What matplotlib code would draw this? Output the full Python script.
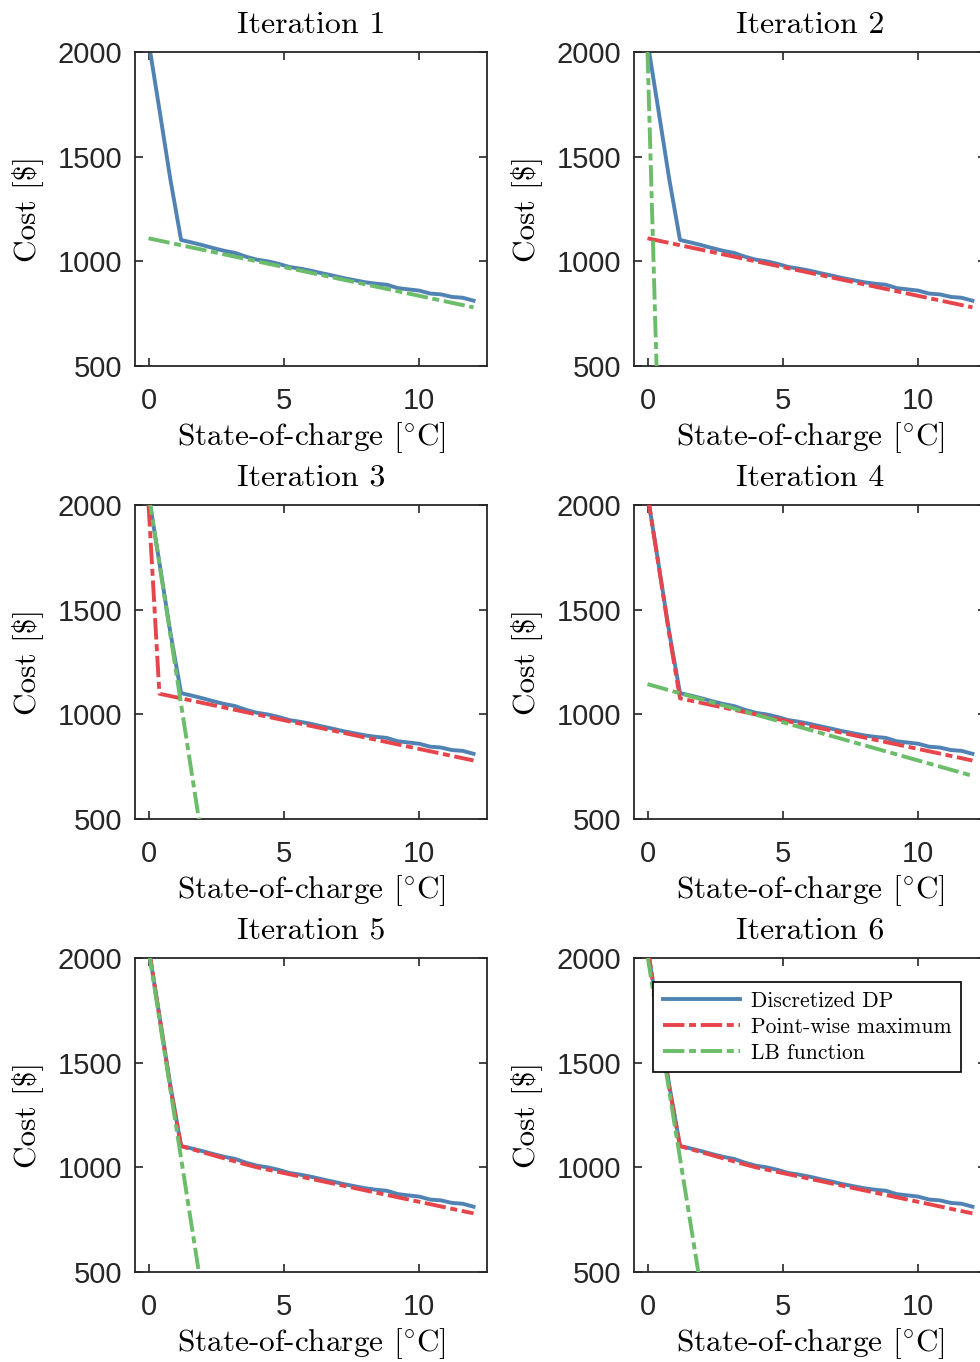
import matplotlib
matplotlib.use("Agg")
import matplotlib.pyplot as plt
import numpy as np

plt.rcParams['mathtext.fontset'] = 'cm'
plt.rcParams['font.family'] = ['Liberation Sans', 'DejaVu Sans']

# state-of-charge grid and discretized DP cost
soc = [0.0, 0.4, 0.8, 1.2, 1.6, 2.0, 2.4, 2.8, 3.2, 3.6, 4.0, 4.4, 4.8, 5.2, 5.6, 6.0,
       6.4, 6.8, 7.2, 7.6, 8.0, 8.4, 8.8, 9.2, 9.6, 10.0, 10.4, 10.8, 11.2, 11.6, 12.0]
dp_cost = [2050, 1725, 1395, 1102, 1090, 1077, 1063, 1050, 1040, 1022, 1008, 1000, 988, 973, 965, 955,
           943, 932, 920, 910, 900, 893, 888, 872, 866, 860, 846, 842, 830, 826, 812]

# LB function of each iteration (linear: intercept + slope * soc)
lb_intercept = [1110, 2000, 2055, 1145, 2040, 2010]
lb_slope = [-27.5, -4500, -838, -36.5, -830, -805]

titles = ['Iteration 1', 'Iteration 2', 'Iteration 3', 'Iteration 4', 'Iteration 5', 'Iteration 6']
legend_labels = ['Discretized DP', 'Point-wise maximum', 'LB function']

c_blue = '#5083b3'
c_red = '#e5454b'
c_green = '#6bbd69'
dashdot = (0, (5.5, 1.2, 1.8, 1.2))
lw = 2.8
serif = 'cmr10'

fig = plt.figure(figsize=(9.8, 13.62), dpi=100)

lefts = [0.1378, 0.6469]
bottoms = [0.7313, 0.3986, 0.0661]
w, h = 0.3592, 0.2305

x = np.array(soc)
for k in range(6):
    ax = fig.add_axes([lefts[k % 2], bottoms[k // 2], w, h])

    ax.plot(x, dp_cost, color=c_blue, lw=lw, label=legend_labels[0], zorder=2)
    if k > 0:
        # point-wise maximum of previous LB functions, on the grid
        prev = [lb_intercept[j] + lb_slope[j] * x for j in range(k)]
        ax.plot(x, np.max(prev, axis=0), color=c_red, lw=lw, linestyle=dashdot,
                label=legend_labels[1], zorder=3)
    ends = np.array([soc[0], soc[-1]])
    ax.plot(ends, lb_intercept[k] + lb_slope[k] * ends, color=c_green, lw=lw,
            linestyle=dashdot, label=legend_labels[2], zorder=4)

    ax.set_xlim(-0.5, 12.5)
    ax.set_ylim(500, 2000)
    ax.set_xticks([0, 5, 10])
    ax.set_yticks([500, 1000, 1500, 2000])
    ax.tick_params(direction='in', top=True, right=True, length=6, width=1.2,
                   labelsize=21, colors='#262626')
    ax.tick_params(axis='x', pad=15)
    ax.tick_params(axis='y', pad=9)
    for s in ax.spines.values():
        s.set_linewidth(1.3)
        s.set_color('#262626')

    ax.set_title(titles[k], fontsize=23, family=serif, pad=14)
    ax.set_xlabel('State-of-charge $[^{\\circ}\\mathrm{C}]$', fontsize=22.5, family=serif, labelpad=4)
    ax.set_ylabel('Cost [$]', fontsize=22.5, family=serif, labelpad=11)

    if k == 5:
        leg = ax.legend(loc='upper left', bbox_to_anchor=(0.054, 0.925), borderaxespad=0,
                        prop={'family': serif, 'size': 15.5}, handlelength=3.6,
                        handletextpad=0.5, labelspacing=0.3, borderpad=0.45,
                        fancybox=False, framealpha=1, edgecolor='black')
        leg.get_frame().set_linewidth(1.2)

fig.savefig('out.png', dpi=100)
